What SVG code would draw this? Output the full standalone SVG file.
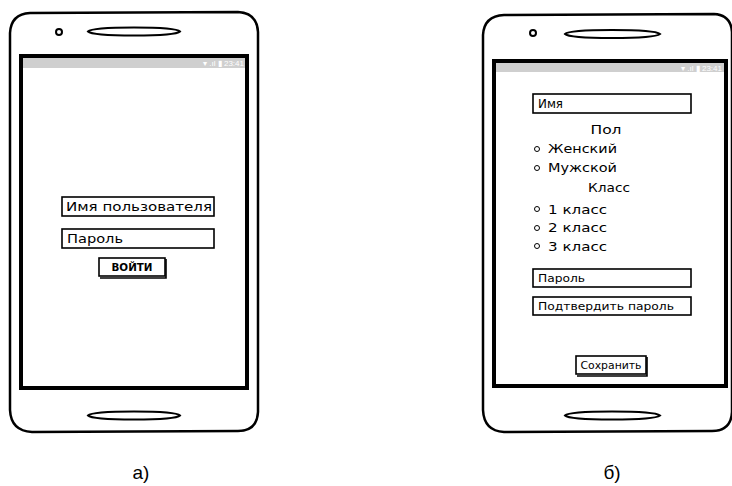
<svg xmlns="http://www.w3.org/2000/svg" width="732" height="486" viewBox="0 0 732 486">
<style>
.body{fill:#fff;stroke:#000;stroke-width:2.5}
.screen{fill:#fff;stroke:#000;stroke-width:4}
.bar{fill:#cfcfcf}
.pill{fill:#fff;stroke:#000;stroke-width:2}
.field{fill:#fff;stroke:#000;stroke-width:1.6}
.shadow{fill:none;stroke:#000;stroke-width:1.6}
.t{font-family:"DejaVu Sans","Liberation Sans",sans-serif;fill:#000}
.st{font-family:"Liberation Sans",Arial,sans-serif;font-size:8px;fill:#fff}
.cap{font-family:"Liberation Sans",Arial,sans-serif;font-size:19px;fill:#000}
.rad{fill:#fff;stroke:#000;stroke-width:1}
</style>
<g id="phone-a">
  <path class="body" d="M30,13 L238,12 Q257,13 258,32 L258,412 Q257,431 238,431 L32,432 Q11,431 10,410 L10,33 Q11,14 30,13 Z"/>
  <circle class="pill" cx="59" cy="32" r="3"/>
  <path class="pill" d="M88,31.5 Q92,27.5 134,27.5 Q176,27.5 180,31.5 Q176,35.5 134,35.5 Q92,35.5 88,31.5 Z"/>
  <rect class="screen" x="21" y="56" width="226" height="332"/>
  <rect class="bar" x="23" y="58" width="222" height="10"/>
  <text class="st" x="244" y="66" text-anchor="end">▾ .ıl ▮ 23:41</text>
  <path class="pill" d="M88,415.5 Q92,411.5 134,411.5 Q176,411.5 180,415.5 Q176,419.5 134,419.5 Q92,419.5 88,415.5 Z"/>
</g>
<g id="login-user">
  <rect class="field" x="62" y="197" width="152" height="19"/>
  <text class="t" x="66" y="211" font-size="13" textLength="146" lengthAdjust="spacingAndGlyphs">Имя пользователя</text>
</g>
<g id="login-pass">
  <rect class="field" x="62" y="229" width="152" height="19"/>
  <text class="t" x="67" y="243" font-size="13" textLength="56" lengthAdjust="spacingAndGlyphs">Пароль</text>
</g>
<g id="login-btn">
  <rect class="field" x="99" y="258" width="66" height="18"/>
  <path class="shadow" d="M166,259 L166,278 L100,278"/>
  <text class="t" x="132" y="271" font-size="10" font-weight="bold" text-anchor="middle" textLength="41" lengthAdjust="spacingAndGlyphs">ВОЙТИ</text>
</g>
<text id="label-a" class="cap" x="141" y="479" text-anchor="middle">а)</text>

<g id="phone-b">
  <path class="body" d="M504,15 L714,14 Q731,15 732,32 L732,412 Q731,431 712,431 L504,432 Q484,431 483,410 L483,35 Q484,16 504,15 Z"/>
  <circle class="pill" cx="533" cy="33" r="3"/>
  <path class="pill" d="M565,34 Q569,30 612,30 Q655,30 660,34 Q655,38 612,38 Q569,38 565,34 Z"/>
  <rect class="screen" x="494" y="61" width="232" height="325"/>
  <rect class="bar" x="496" y="63" width="228" height="9"/>
  <text class="st" x="722" y="70.5" text-anchor="end">▾ .ıl ▮ 23:41</text>
  <path class="pill" d="M565,415.5 Q569,411.5 612,411.5 Q655,411.5 660,415.5 Q655,419.5 612,419.5 Q569,419.5 565,415.5 Z"/>
</g>
<g id="reg-name">
  <rect class="field" x="533" y="94" width="158" height="19"/>
  <text class="t" x="538" y="108" font-size="12" textLength="25" lengthAdjust="spacingAndGlyphs">Имя</text>
</g>
<g id="reg-gender">
  <text class="t" x="606" y="134" font-size="12" text-anchor="middle" textLength="31" lengthAdjust="spacingAndGlyphs">Пол</text>
  <circle class="rad" cx="537" cy="149" r="2.5"/>
  <text class="t" x="548" y="153" font-size="12" textLength="69" lengthAdjust="spacingAndGlyphs">Женский</text>
  <circle class="rad" cx="537" cy="168" r="2.5"/>
  <text class="t" x="548" y="172" font-size="12" textLength="69" lengthAdjust="spacingAndGlyphs">Мужской</text>
</g>
<g id="reg-class">
  <text class="t" x="609" y="192" font-size="12" text-anchor="middle" textLength="42" lengthAdjust="spacingAndGlyphs">Класс</text>
  <circle class="rad" cx="537" cy="209" r="2.5"/>
  <text class="t" x="548" y="214" font-size="12" textLength="59" lengthAdjust="spacingAndGlyphs">1 класс</text>
  <circle class="rad" cx="537" cy="228" r="2.5"/>
  <text class="t" x="548" y="232" font-size="12" textLength="59" lengthAdjust="spacingAndGlyphs">2 класс</text>
  <circle class="rad" cx="537" cy="246" r="2.5"/>
  <text class="t" x="548" y="251" font-size="12" textLength="59" lengthAdjust="spacingAndGlyphs">3 класс</text>
</g>
<g id="reg-pass">
  <rect class="field" x="533" y="269" width="158" height="18"/>
  <text class="t" x="538" y="282" font-size="11" textLength="47" lengthAdjust="spacingAndGlyphs">Пароль</text>
</g>
<g id="reg-confirm">
  <rect class="field" x="533" y="297" width="158" height="18"/>
  <text class="t" x="538" y="310" font-size="11" textLength="136" lengthAdjust="spacingAndGlyphs">Подтвердить пароль</text>
</g>
<g id="reg-save">
  <rect class="field" x="576" y="356" width="70" height="18"/>
  <path class="shadow" d="M647,357 L647,376 L577,376"/>
  <text class="t" x="611" y="369" font-size="11" text-anchor="middle" textLength="61" lengthAdjust="spacingAndGlyphs">Сохранить</text>
</g>
<text id="label-b" class="cap" x="612" y="479" text-anchor="middle">б)</text>
<g id="connectors"/>
</svg>
